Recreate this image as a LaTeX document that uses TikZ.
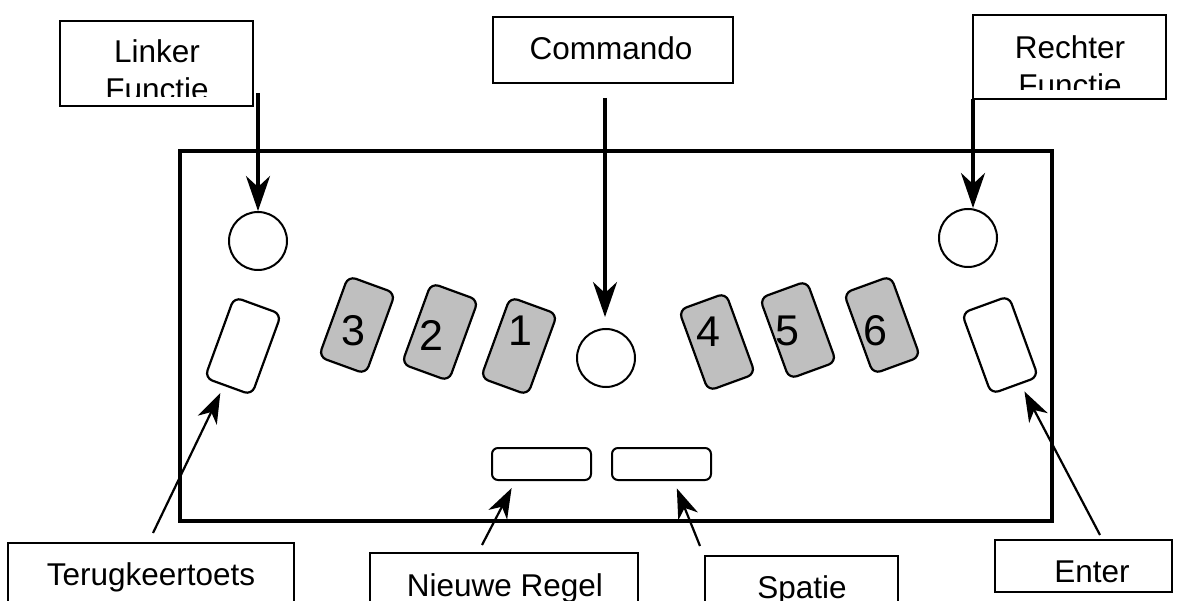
\documentclass[tikz,border=0pt]{standalone}
\usepackage{fontspec}
\setmainfont{Liberation Sans}
\usetikzlibrary{positioning}
\usetikzlibrary{arrows.meta}
\definecolor{padgray}{gray}{0.75}

\begin{document}
\begin{tikzpicture}[x=1pt, y=-1pt,
    box/.style = {draw, line width=2.8pt, inner sep=0pt},
    txt/.style = {inner sep=0pt, anchor=base, align=center, font=\fontsize{31.5}{38}\selectfont},
    btn/.style = {draw, circle, line width=2pt, minimum size=58pt, inner sep=0pt},
    pad/.style = {draw, line width=2.2pt, rounded corners=8pt, minimum width=50pt, minimum height=86pt, inner sep=0pt},
    bar/.style = {draw, line width=2pt, rounded corners=6pt, minimum width=99pt, minimum height=32pt, inner sep=0pt},
    num/.style = {inner sep=0pt, font=\fontsize{43}{43}\selectfont},
    bigarrow/.style = {-{Stealth[length=35pt, width=24pt, inset=11pt]}, line width=3.4pt},
    smallarrow/.style = {-{Stealth[length=30pt, width=21pt, inset=9pt]}, line width=2.2pt, shorten >=8pt}]

    \clip (0,0) rectangle (1178,601);
    \fill[white] (0,0) rectangle (1178,601);

    % housing
    \draw[line width=4pt] (180,151) rectangle (1052,521);

    % round buttons
    \node[btn](lbtn) at (258,241) {};
    \node[btn](rbtn) at (968,238) {};
    \node[btn](cbtn) at (606,358) {};

    % dot keys
    \node[pad, rotate=-20](lpad) at (243,346) {};
    \node[pad, fill=padgray, rotate=-20](p3) at (357,325) {};
    \node[pad, fill=padgray, rotate=-20](p2) at (440,332) {};
    \node[pad, fill=padgray, rotate=-20](p1) at (519,346) {};
    \node[pad, fill=padgray, rotate=20](p4) at (717,342) {};
    \node[pad, fill=padgray, rotate=20](p5) at (798,330) {};
    \node[pad, fill=padgray, rotate=20](p6) at (882,325) {};
    \node[pad, rotate=20](rpad) at (1000,345) {};
    \node[num](n3) at (353,331) {3};
    \node[num](n2) at (431,335) {2};
    \node[num](n1) at (520,331) {1};
    \node[num](n4) at (708,332) {4};
    \node[num](n5) at (787,331) {5};
    \node[num](n6) at (875,331) {6};

    % space bars
    \node[bar](nbar) at (541.5,464) {};
    \node[bar](sbar) at (661.5,464) {};

    % labels
    \node[box, minimum width=193pt, minimum height=85pt](linker) at (156.5,63.5) {};
    \node[box, minimum width=240pt, minimum height=66pt](commando) at (613,50) {};
    \node[box, minimum width=193pt, minimum height=84pt](rechter) at (1069.5,57) {};
    \node[box, minimum width=286pt, minimum height=70pt](terug) at (151,578) {};
    \node[box, minimum width=268pt, minimum height=60pt](nieuwe) at (504,583) {};
    \node[box, minimum width=193pt, minimum height=57pt](spatie) at (801.5,584.5) {};
    \node[box, minimum width=177pt, minimum height=52pt](enter) at (1083.5,566) {};
    \begin{scope}
        \clip (60,21) rectangle (253,97);
        \node[txt](linkertxt) at (157,101) {Linker\\Functie};
    \end{scope}
    \begin{scope}
        \clip (973,15) rectangle (1166,90);
        \node[txt](rechtertxt) at (1070,96.5) {Rechter\\Functie};
    \end{scope}
    \node[txt](commandotxt) at (611,60) {Commando};
    \node[txt](terugtxt) at (151,585) {Terugkeertoets};
    \node[txt](nieuwetxt) at (505,596) {Nieuwe Regel};
    \node[txt](spatietxt) at (802,598) {Spatie};
    \node[txt](entertxt) at (1092,582) {Enter};

    % arrows
    \coordinate (lstart) at (258,93);
    \coordinate (cstart) at (605,98);
    \coordinate (rstart) at (973,99);
    \coordinate (tstart) at (153,533);
    \coordinate (nstart) at (482,545);
    \coordinate (sstart) at (700,546);
    \coordinate (estart) at (1100,535);
    \draw[bigarrow] (lstart) -- (lstart |- lbtn.north);
    \draw[bigarrow, shorten >=11pt] (cstart) -- (cstart |- cbtn.north);
    \draw[bigarrow] (rstart) -- (rstart |- rbtn.north);
    \draw[smallarrow] (tstart) -- (lpad);
    \draw[smallarrow] (nstart) -- (nbar.213);
    \draw[smallarrow] (sstart) -- (sbar.-54);
    \draw[smallarrow] (estart) -- (rpad);
\end{tikzpicture}
\end{document}
